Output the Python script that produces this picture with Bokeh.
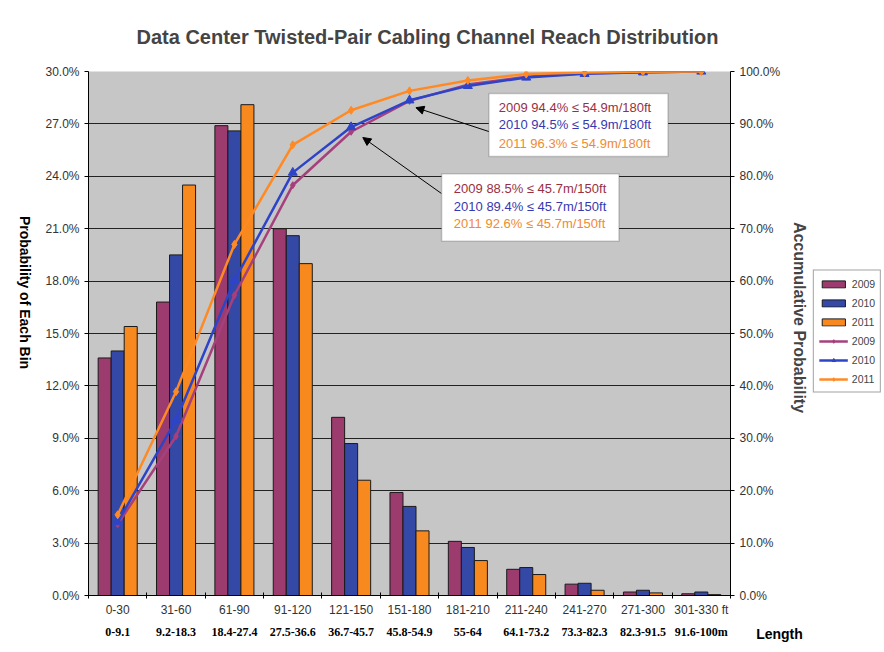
import math
from bokeh.plotting import figure
from bokeh.layouts import row
from bokeh.models import (Range1d, LinearAxis, FixedTicker, PrintfTickFormatter, ColumnDataSource,
                          Legend, LegendItem, Label, Arrow, NormalHead, BoxAnnotation)
from bokeh.transform import dodge
from bokeh.embed import file_html
from bokeh.resources import INLINE

# ---------------- data ----------------
ft_labels = ["0-30", "31-60", "61-90", "91-120", "121-150", "151-180", "181-210",
             "211-240", "241-270", "271-300", "301-330 ft"]
m_labels = ["0-9.1", "9.2-18.3", "18.4-27.4", "27.5-36.6", "36.7-45.7", "45.8-54.9",
            "55-64", "64.1-73.2", "73.3-82.3", "82.3-91.5", "91.6-100m"]
years = ["2009", "2010", "2011"]

bin_2009 = [13.6, 16.8, 26.9, 21.0, 10.2, 5.9, 3.1, 1.5, 0.65, 0.2, 0.1]
bin_2010 = [14.0, 19.5, 26.6, 20.6, 8.7, 5.1, 2.75, 1.6, 0.7, 0.3, 0.2]
bin_2011 = [15.4, 23.5, 28.1, 19.0, 6.6, 3.7, 2.0, 1.2, 0.3, 0.15, 0.05]

cum_2009 = [13.6, 30.4, 57.3, 78.3, 88.5, 94.4, 97.5, 99.0, 99.65, 99.85, 100.0]
cum_2010 = [14.0, 33.5, 60.1, 80.7, 89.4, 94.5, 97.25, 98.85, 99.55, 99.85, 100.0]
cum_2011 = [15.4, 38.9, 67.0, 86.0, 92.6, 96.3, 98.3, 99.5, 99.8, 99.95, 100.0]

note_180 = ["2009 94.4% \u2264 54.9m/180ft", "2010 94.5% \u2264 54.9m/180ft", "2011 96.3% \u2264 54.9m/180ft"]
note_150 = ["2009 88.5% \u2264 45.7m/150ft", "2010 89.4% \u2264 45.7m/150ft", "2011 92.6% \u2264 45.7m/150ft"]

left_ticks = [0, 3, 6, 9, 12, 15, 18, 21, 24, 27, 30]
right_ticks = [0, 10, 20, 30, 40, 50, 60, 70, 80, 90, 100]

# ---------------- styles ----------------
BAR_COLORS = ["#9C3B6E", "#3449A6", "#F7891F"]
LINE_COLORS = ["#A6407D", "#2E44C8", "#FF8A24"]
NOTE_COLORS = ["#9A2F3F", "#3838B0", "#F08A30"]
FONT = "Liberation Sans"
H = 640

idx = list(range(len(ft_labels)))
bounds = [i - 0.5 for i in range(len(ft_labels) + 1)]

src = ColumnDataSource(dict(idx=idx, b2009=bin_2009, b2010=bin_2010, b2011=bin_2011,
                            c2009=cum_2009, c2010=cum_2010, c2011=cum_2011))

# ---------------- main chart ----------------
p = figure(frame_width=642, frame_height=524, output_backend="svg", toolbar_location=None,
           x_range=Range1d(-0.5, len(ft_labels) - 0.5), y_range=Range1d(0, 30),
           x_axis_location=None, min_border_left=48, min_border_right=0,
           min_border_top=71, min_border_bottom=0)
p.extra_y_ranges = {"cum": Range1d(0, 100)}
p.extra_x_ranges = {"len": Range1d(0, 1)}
p.background_fill_color = "#C6C6C6"
p.border_fill_color = "white"
p.outline_line_color = None

p.title.text = "Data Center Twisted-Pair Cabling Channel Reach Distribution"
p.title.align = "left"
p.title.offset = 48
p.title.text_font = FONT
p.title.text_font_size = "20px"
p.title.text_font_style = "bold"
p.title.standoff = 47

p.xgrid.visible = False
p.ygrid.ticker = FixedTicker(ticks=left_ticks[1:-1])
p.ygrid.grid_line_color = "#222222"
p.ygrid.grid_line_width = 1

w = 0.223
for k, (col, c) in enumerate(zip(["b2009", "b2010", "b2011"], BAR_COLORS)):
    p.vbar(x=dodge("idx", (k - 1) * w, range=p.x_range), top=col, width=w, source=src,
           fill_color=c, line_color="#1a1a1a", line_width=1)

markers = ["diamond", "triangle", "diamond"]
sizes = [7, 9, 8]
for col, c, m, s in zip(["c2009", "c2010", "c2011"], LINE_COLORS, markers, sizes):
    p.line(x="idx", y=col, source=src, y_range_name="cum", line_color=c, line_width=2.5)
    p.scatter(x="idx", y=col, source=src, y_range_name="cum", marker=m, size=s,
              fill_color=c, line_color=c)

ya = p.yaxis[0]
ya.ticker = FixedTicker(ticks=left_ticks)
ya.formatter = PrintfTickFormatter(format="%.1f%%")
ya.major_tick_out = 4
ya.major_tick_in = 0
ya.minor_tick_line_color = None
ya.axis_line_color = "black"
ya.major_label_text_font = FONT
ya.major_label_text_font_size = "12px"
ya.major_label_text_color = "#333333"

ra = LinearAxis(y_range_name="cum", ticker=FixedTicker(ticks=right_ticks),
                formatter=PrintfTickFormatter(format="%.1f%%"),
                major_tick_out=4, major_tick_in=0, minor_tick_line_color=None,
                axis_line_color="black", major_label_text_font=FONT,
                major_label_text_font_size="12px", major_label_text_color="#333333",
                axis_label="Accumulative Probability" + "\u2003" * 2, axis_label_text_font=FONT,
                axis_label_text_font_size="16px", axis_label_text_font_style="bold",
                axis_label_standoff=8)
p.add_layout(ra, "right")

ax_ft = LinearAxis(ticker=FixedTicker(ticks=idx, minor_ticks=bounds),
                   major_label_overrides={i: t for i, t in zip(idx, ft_labels)},
                   major_tick_in=0, major_tick_out=0, major_tick_line_color=None,
                   minor_tick_in=3, minor_tick_out=3, minor_tick_line_color="black",
                   axis_line_color="black", major_label_standoff=4,
                   major_label_text_font=FONT, major_label_text_font_size="12px",
                   major_label_text_color="#333333")
ax_m = LinearAxis(ticker=FixedTicker(ticks=idx),
                  major_label_overrides={i: t for i, t in zip(idx, m_labels)},
                  major_tick_in=0, major_tick_out=0, major_tick_line_color=None,
                  minor_tick_line_color=None, axis_line_color=None, major_label_standoff=5,
                  major_label_text_font="Liberation Serif", major_label_text_font_size="12px",
                  major_label_text_font_style="bold", major_label_text_color="black")
ax_len = LinearAxis(x_range_name="len", ticker=FixedTicker(ticks=[1]),
                    major_label_overrides={1: "\u2003" * 7 + "Length"},
                    major_tick_in=0, major_tick_out=0, major_tick_line_color=None,
                    minor_tick_line_color=None, axis_line_color=None, major_label_standoff=-16,
                    major_label_text_font=FONT, major_label_text_font_size="14px",
                    major_label_text_font_style="bold", major_label_text_color="black")
p.add_layout(ax_ft, "below")
p.add_layout(ax_m, "below")
p.add_layout(ax_len, "below")

p.add_layout(Arrow(end=NormalHead(size=8, fill_color="black", line_color="black"),
                   x_start=6.40, y_start=88.4, x_end=5.11, y_end=93.1,
                   line_color="black", line_width=1, y_range_name="cum"))
p.add_layout(Arrow(end=NormalHead(size=8, fill_color="black", line_color="black"),
                   x_start=5.55, y_start=76.7, x_end=4.20, y_end=87.4,
                   line_color="black", line_width=1, y_range_name="cum"))
p.add_layout(BoxAnnotation(left=6.36, right=9.43, bottom=83.8, top=95.8, y_range_name="cum",
                           fill_color="white", fill_alpha=1, line_color="#555555", line_width=1.5))
p.add_layout(BoxAnnotation(left=5.55, right=8.59, bottom=67.6, top=80.5, y_range_name="cum",
                           fill_color="white", fill_alpha=1, line_color="#555555", line_width=1.5))
for txt, c, yy in zip(note_180, NOTE_COLORS, [93.2, 89.8, 86.3]):
    p.add_layout(Label(x=6.53, y=yy, text=txt, text_color=c, text_font=FONT,
                       text_font_size="13px", text_baseline="middle", y_range_name="cum"))
for txt, c, yy in zip(note_150, NOTE_COLORS, [77.7, 74.3, 70.9]):
    p.add_layout(Label(x=5.76, y=yy, text=txt, text_color=c, text_font=FONT,
                       text_font_size="13px", text_baseline="middle", y_range_name="cum"))

# ---------------- left title strip ----------------
p0 = figure(width=40, height=H, output_backend="svg", toolbar_location=None,
            x_range=Range1d(0, 40), y_range=Range1d(0, H),
            x_axis_location=None, y_axis_location=None, min_border=0)
p0.outline_line_color = None
for g in p0.grid:
    g.visible = False
p0.add_layout(Label(x=24, y=H - 272, text="Probability of Each Bin", angle=-math.pi / 2,
                    text_align="center", text_baseline="middle", text_font=FONT,
                    text_font_size="14px", text_font_style="bold", text_color="black"))

# ---------------- legend strip ----------------
# legend swatches reuse the chart's own source; the strip's ranges keep them out of view
p2 = figure(width=72, height=H, output_backend="svg", toolbar_location=None,
            x_range=Range1d(-3, -2), y_range=Range1d(0, 1),
            x_axis_location=None, y_axis_location=None, min_border=0)
p2.outline_line_color = None
for g in p2.grid:
    g.visible = False
leg_bars = [p2.vbar(x="idx", top=col, width=0.1, source=src, fill_color=c,
                    line_color="#1a1a1a")
            for col, c in zip(["b2009", "b2010", "b2011"], BAR_COLORS)]
leg_lines = []
for col, c, m, s in zip(["c2009", "c2010", "c2011"], LINE_COLORS, markers, sizes):
    l = p2.line(x="idx", y=col, source=src, line_color=c, line_width=2.5)
    sc = p2.scatter(x="idx", y=col, source=src, marker=m, size=s - 2, fill_color=c, line_color=c)
    leg_lines.append((l, sc))
items = [LegendItem(label=y, renderers=[r]) for y, r in zip(years, leg_bars)]
items += [LegendItem(label=y, renderers=[l, s]) for y, (l, s) in zip(years, leg_lines)]
legend = Legend(items=items, location="center", border_line_color="#444444",
                label_text_font=FONT, label_text_font_size="10.5px",
                glyph_width=29, glyph_height=9, label_height=16, spacing=3,
                label_standoff=4, padding=5, margin=0)
p2.add_layout(legend, "center")

layout = row(p0, p, p2)
open("out.html", "w").write(file_html(layout, INLINE))
